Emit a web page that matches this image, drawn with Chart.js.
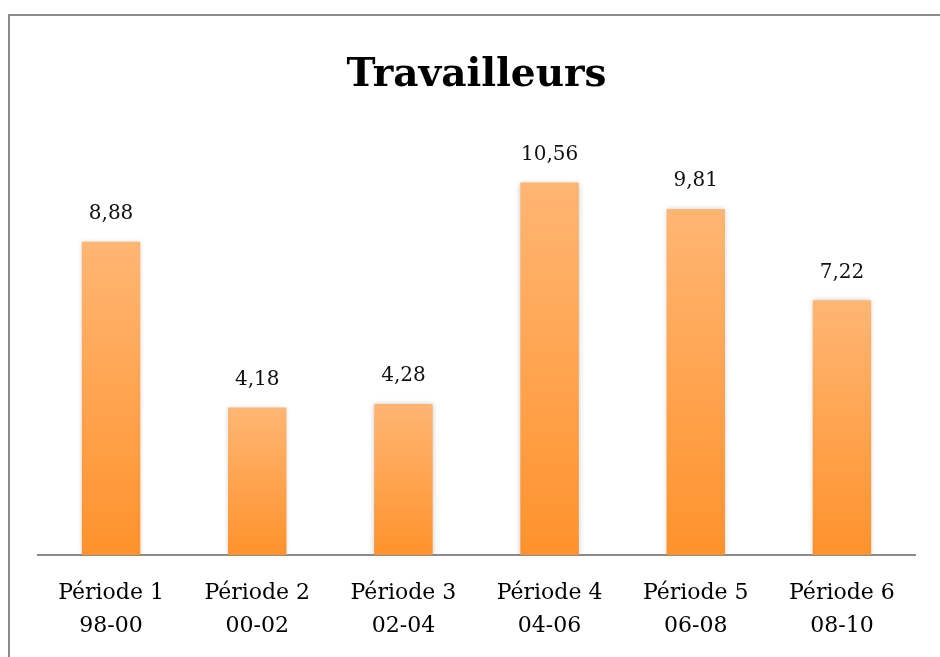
<!DOCTYPE html>
<html>
<head>
<meta charset="utf-8">
<script src="https://cdn.jsdelivr.net/npm/chart.js@4.4.1/dist/chart.umd.min.js"></script>
<style>
    html, body { margin: 0; padding: 0; background: #fff; overflow: hidden; }
    #wrap { position: relative; width: 940px; height: 657px; }
    #frame {
        position: absolute; left: 8px; top: 14px; width: 1000px; height: 700px;
        border-left: 2px solid #8c8c8c; border-top: 2px solid #8c8c8c;
        box-sizing: border-box; pointer-events: none;
    }
    canvas { position: absolute; left: 0; top: 0; }
</style>
</head>
<body>
<div id="wrap">
    <canvas id="chart" width="940" height="657"></canvas>
    <div id="frame"></div>
</div>
<script>
const TITLE = 'Travailleurs';
const PERIODS = ['Période 1', 'Période 2', 'Période 3', 'Période 4', 'Période 5', 'Période 6'];
const YEARS = ['98-00', '00-02', '02-04', '04-06', '06-08', '08-10'];
const VALUES = [8.88, 4.18, 4.28, 10.56, 9.81, 7.22];

const SERIF = '"DejaVu Serif", "Liberation Serif", serif';

const formatFr = (v) => v.toFixed(2).replace('.', ',');

const barGradient = (ctx) => {
    const chart = ctx.chart;
    const y = chart.scales.y;
    if (!chart.chartArea || !y || ctx.raw == null) return '#fea85a';
    const top = y.getPixelForValue(ctx.raw);
    const base = y.getPixelForValue(0);
    const g = chart.ctx.createLinearGradient(0, top, 0, base);
    g.addColorStop(0, '#ffb673');
    g.addColorStop(1, '#ff922c');
    return g;
};

const barShadow = {
    id: 'barShadow',
    beforeDatasetsDraw: (chart) => {
        const c = chart.ctx;
        c.save();
        c.shadowColor = 'rgba(0,0,0,0.22)';
        c.shadowBlur = 5;
        c.shadowOffsetX = 0;
        c.shadowOffsetY = 0;
    },
    afterDatasetsDraw: (chart) => {
        chart.ctx.restore();
    },
};

const valueLabels = {
    id: 'valueLabels',
    afterDatasetsDraw: (chart) => {
        const c = chart.ctx;
        const meta = chart.getDatasetMeta(0);
        c.save();
        c.font = '20px ' + SERIF;
        c.fillStyle = '#111';
        c.textAlign = 'center';
        c.textBaseline = 'bottom';
        meta.data.forEach((bar, i) => {
            c.fillText(formatFr(VALUES[i]), bar.x, bar.y - 18);
        });
        c.restore();
    },
};

new Chart(document.getElementById('chart'), {
    type: 'bar',
    data: {
        labels: PERIODS.map((p, i) => [p, YEARS[i]]),
        datasets: [{
            data: VALUES,
            backgroundColor: barGradient,
            borderWidth: 0,
            barPercentage: 0.4,
            categoryPercentage: 1,
        }],
    },
    options: {
        responsive: false,
        animation: false,
        devicePixelRatio: 1,
        layout: { padding: { left: 38, right: 25, top: 0, bottom: 0 } },
        scales: {
            x: {
                afterFit: (scale) => { scale.height = 102; },
                grid: { display: false, drawTicks: false },
                border: { display: true, color: '#8c8c8c', width: 2 },
                ticks: {
                    color: '#000',
                    padding: 22,
                    maxRotation: 0,
                    font: { family: SERIF, size: 22, lineHeight: 1.5 },
                },
            },
            y: {
                display: false,
                min: 0,
                max: 12,
            },
        },
        plugins: {
            legend: { display: false },
            tooltip: { enabled: false },
            title: {
                display: true,
                text: TITLE,
                color: '#000',
                font: { family: SERIF, size: 39, weight: 'bold', lineHeight: 1.2 },
                padding: { top: 52, bottom: 33 },
            },
        },
    },
    plugins: [barShadow, valueLabels],
});
</script>
</body>
</html>
